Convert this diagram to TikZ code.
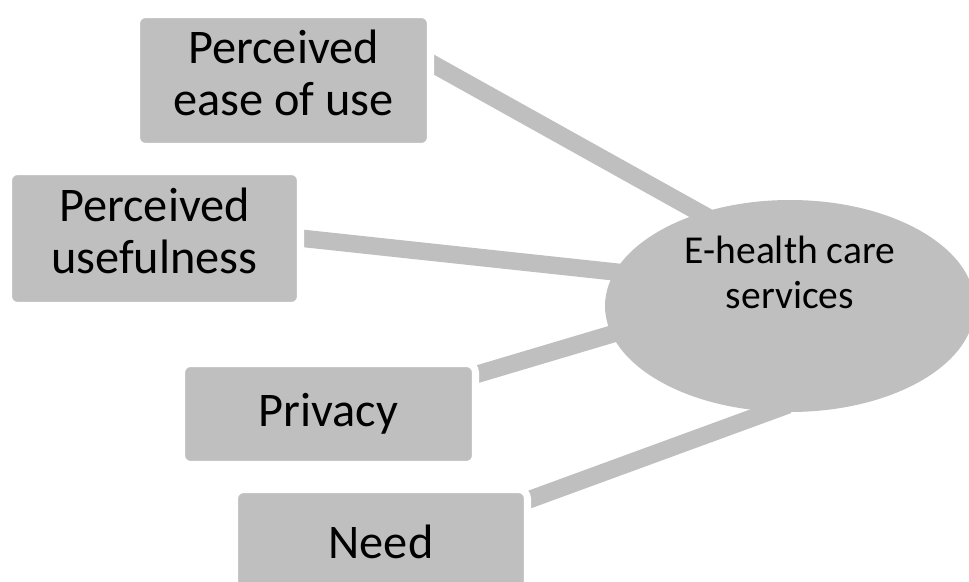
\documentclass[tikz,border=0pt]{standalone}
\usepackage{fontspec}
\setmainfont{Carlito}
\usepackage{tikz}
\usetikzlibrary{shapes.geometric, backgrounds}
\definecolor{boxgray}{RGB}{191,191,191}
\tikzset{
    factor/.style = {rectangle, rounded corners=0.18cm, fill=boxgray,
        draw=white, line width=4pt, inner sep=0pt, align=center,
        text=black, font=\fontsize{27.5}{29.6}\selectfont},
    outcome/.style = {ellipse, fill=boxgray, draw=none, inner sep=0pt,
        minimum width=7.4cm, minimum height=4.24cm},
    link/.style = {draw=boxgray, line width=0.35cm,
        shorten <=-0.3cm, shorten >=-0.4cm},
}

\begin{document}
\begin{tikzpicture}
        \useasboundingbox (0,0) rectangle (19.38,11.62);
        \node (svc) [outcome] at (15.8,5.5) {};
        \node (svctext) [align=center, font=\fontsize{22.5}{25.6}\selectfont]
            at ([yshift=0.68cm]svc.center) {E-health care\\services};
        \node (ease) [factor, minimum width=5.88cm, minimum height=2.64cm]
            at (5.67,10.01) {Perceived\\ease of use\strut};
        \node (useful) [factor, minimum width=5.84cm, minimum height=2.68cm]
            at (3.09,6.85) {Perceived\\usefulness\strut};
        \node (priv) [factor, minimum width=5.88cm, minimum height=2.02cm]
            at (6.57,3.34) {Privacy};
        \node (need) [factor, minimum width=5.86cm, minimum height=2.1cm]
            at (7.62,0.78) {Need};
        % spokes run under the boxes and into the ellipse
        \begin{scope}[on background layer]
            \draw [link] (ease.6) -- (svc.134);
            \draw [link] (useful.0) -- (svc.169);
            \draw [link] (priv.15) -- (svc.189);
            \draw [link] (need.16) -- (svc.259);
        \end{scope}
\end{tikzpicture}
\end{document}
